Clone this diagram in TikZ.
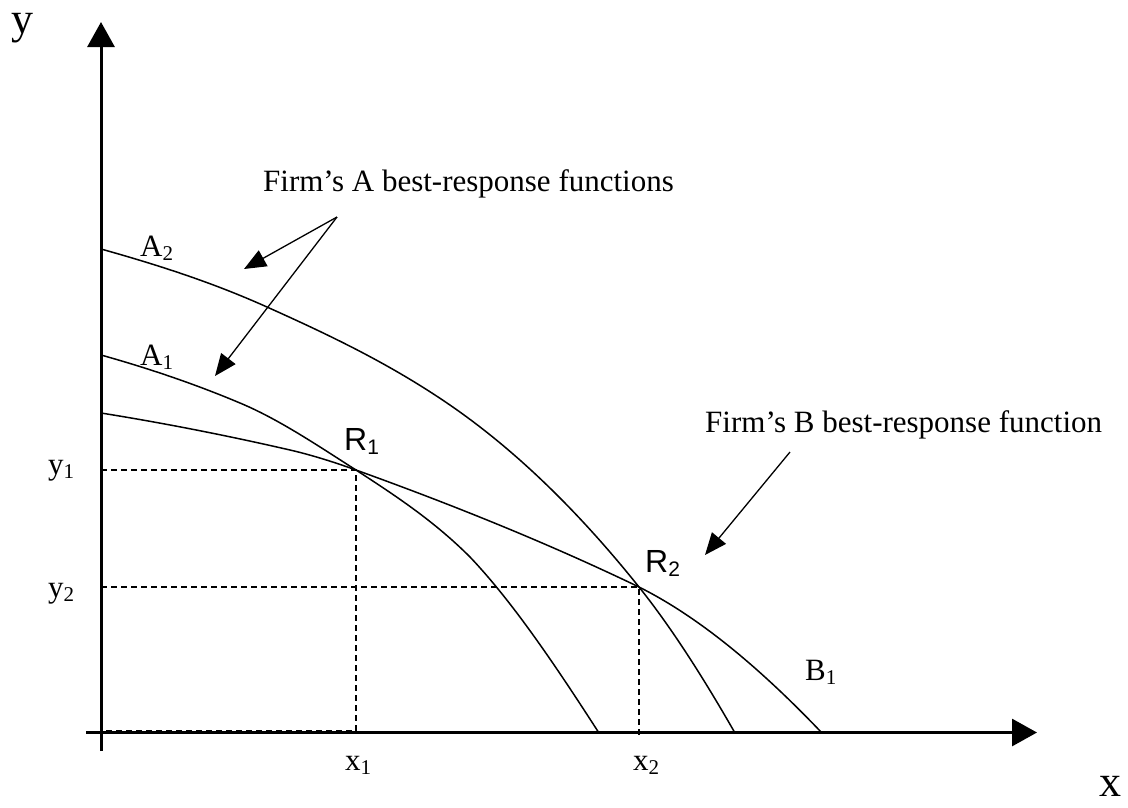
\documentclass[tikz,border=0pt]{standalone}
\usepackage{fontspec}
\setmainfont{Liberation Serif}
\newfontfamily\arialfont{Liberation Sans}
\usetikzlibrary{arrows.meta}
\newcommand\sbs[1]{\raisebox{-4pt}{\fontsize{21}{24}\selectfont #1}}
\begin{document}
\begin{tikzpicture}[x=1pt,y=-1pt,
  axis/.style={line width=3pt,-{Triangle[length=25pt,width=27pt]}},
  curve/.style={line width=1.5pt},
  guide/.style={line width=1.3pt,dash pattern=on 6pt off 4pt},
  pointer/.style={line width=1.3pt,-{Triangle[length=22pt,width=18pt]}},
  lbl/.style={inner sep=0pt,anchor=base west,font=\fontsize{31}{36}\selectfont},
  rlbl/.style={inner sep=0pt,anchor=base west,font=\arialfont\fontsize{32}{38}\selectfont},
  axlbl/.style={inner sep=0pt,anchor=base,font=\fontsize{44}{50}\selectfont}]
\useasboundingbox (0,0) rectangle (1128,807);
% axes
\coordinate (ybot) at (101,751);
\coordinate (ytop) at (101,22);
\coordinate (xleft) at (86,732.5);
\coordinate (xright) at (1037,732.5);
\draw[axis] (ybot) -- (ytop);
\draw[axis] (xleft) -- (xright);
% equilibrium points
\coordinate (R1) at (356,470);
\coordinate (R2) at (639,587);
% dashed guides
\draw[guide] (101,470) -- (R1) -- (356,731) -- (101,731);
\draw[guide] (101,587) -- (R2) -- (639,738);
% curve A2
\draw[curve] (101,249) .. controls (156.3,264.5) and (211.7,282.1) .. (267,307)
  .. controls (327,334) and (387,362.2) .. (447,403)
  .. controls (511,446.5) and (575,507) .. (R2)
  .. controls (671,627) and (703,677) .. (735,733);
% curve A1
\draw[curve] (101,355) .. controls (147.3,368) and (193.7,383.5) .. (240,403)
  .. controls (278.7,419.2) and (317.3,445.3) .. (R1)
  .. controls (396,496) and (434,521) .. (470,557)
  .. controls (513,602.2) and (556,666.3) .. (599,733);
% curve B1
\draw[curve] (101,413) .. controls (164,423.1) and (227,435.5) .. (290,450)
  .. controls (312,455.1) and (334,462.1) .. (R1)
  .. controls (450.3,504) and (544.7,541.7) .. (R2)
  .. controls (700,617.5) and (761,669) .. (822,733);
% labels
\node[axlbl] (ylab) at (22.5,33) {y};
\node[axlbl] (xlab) at (1110,796) {x};
\node[lbl] (A2) at (140,256) {A\sbs{2}};
\node[lbl] (A1) at (140,365) {A\sbs{1}};
\node[lbl] (B1) at (805,680) {B\sbs{1}};
\node[lbl] (y1) at (48,474) {y\sbs{1}};
\node[lbl] (y2) at (48,597) {y\sbs{2}};
\node[lbl] (x1) at (345,770) {x\sbs{1}};
\node[lbl] (x2) at (633,770) {x\sbs{2}};
\node[rlbl] (R1lab) at (344,450) {R\sbs{1}};
\node[rlbl] (R2lab) at (645,572) {R\sbs{2}};
\node[lbl] (firmA) at (263,191) {Firm’s A best-response functions};
\node[lbl] (firmB) at (705,432) {Firm’s B best-response function};
% pointers
\coordinate (pa) at (337,217);
\coordinate (ta2) at (244,269);
\coordinate (ta1) at (215,376);
\coordinate (pb) at (790,452);
\coordinate (tb) at (705,555);
\draw[pointer] (pa) -- (ta2);
\draw[pointer] (pa) -- (ta1);
\draw[pointer] (pb) -- (tb);
\end{tikzpicture}
\end{document}
